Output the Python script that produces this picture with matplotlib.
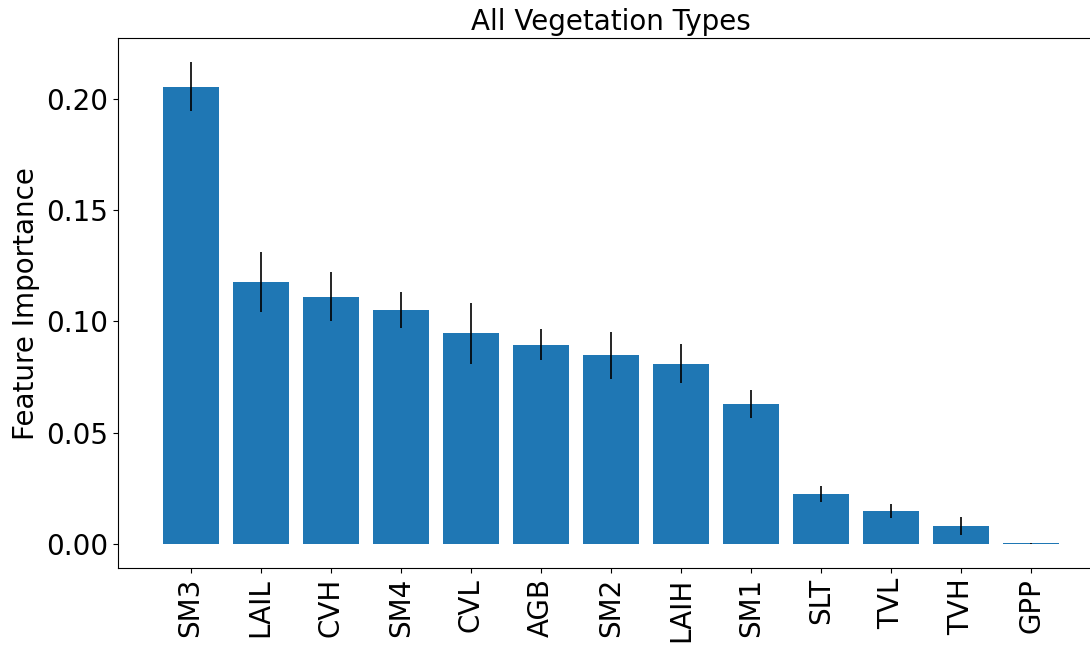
import matplotlib
matplotlib.use("Agg")
import matplotlib.pyplot as plt

features = ["SM3", "LAIL", "CVH", "SM4", "CVL", "AGB", "SM2", "LAIH", "SM1", "SLT", "TVL", "TVH", "GPP"]
importance = [0.2054, 0.1176, 0.1111, 0.1050, 0.0946, 0.0896, 0.0847, 0.0811, 0.0631, 0.0225, 0.0149, 0.0081, 0.0003]
errors = [0.0110, 0.0135, 0.0110, 0.0080, 0.0135, 0.0070, 0.0106, 0.0086, 0.0063, 0.0038, 0.0030, 0.0040, 0.0002]

fig = plt.figure(figsize=(10.9, 6.45), dpi=100)
ax = fig.add_axes([0.108, 0.119, 0.905, 0.822])
ax.use_sticky_edges = False
ax.bar(range(len(features)), importance, yerr=errors, color="#1f77b4", width=0.8,
       error_kw=dict(ecolor="black", elinewidth=1.2))
ax.autoscale_view()
ax.set_xticks(range(len(features)))
ax.set_xticklabels(features, rotation=90, fontsize=20)
ax.tick_params(axis="y", labelsize=20)
ax.set_ylabel("Feature Importance", fontsize=20)
ax.set_title("All Vegetation Types", fontsize=20)
ax.spines["right"].set_visible(False)
fig.savefig("out.png", dpi=100)
